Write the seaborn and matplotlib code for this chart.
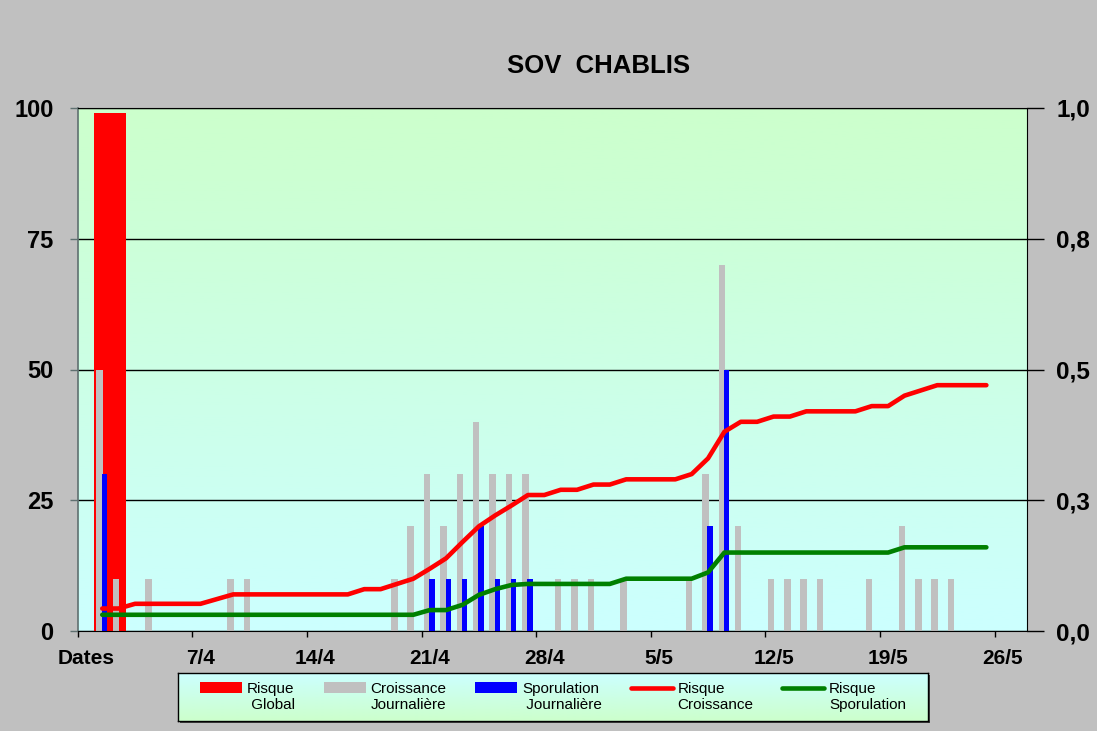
import numpy as np
import pandas as pd
import matplotlib
matplotlib.use("Agg")
import matplotlib.pyplot as plt
import seaborn as sns
from matplotlib.patches import Patch
from matplotlib.lines import Line2D
from matplotlib.colors import LinearSegmentedColormap
from matplotlib.legend_handler import HandlerPatch, HandlerLine2D

# ---------------- data ----------------
title = "SOV  CHABLIS"
n_days = 58  # 31/3 -> 27/5, one category per day
date_tick_days = [0, 7, 14, 21, 28, 35, 42, 49, 56]
date_tick_labels = ["Dates", "7/4", "14/4", "21/4", "28/4", "5/5", "12/5", "19/5", "26/5"]

risque_global = [0, 99] + [0] * 56

croissance_journaliere = [0, 50, 10, 0, 10, 0, 0, 0, 0, 10,
                          10, 0, 0, 0, 0, 0, 0, 0, 0, 10,
                          20, 30, 20, 30, 40, 30, 30, 30, 0, 10,
                          10, 10, 0, 10, 0, 0, 0, 10, 30, 70,
                          20, 0, 10, 10, 10, 10, 0, 0, 10, 0,
                          20, 10, 10, 10, 0, 0, 0, 0]

sporulation_journaliere = [0, 30, 0, 0, 0, 0, 0, 0, 0, 0,
                           0, 0, 0, 0, 0, 0, 0, 0, 0, 0,
                           0, 10, 10, 10, 20, 10, 10, 10, 0, 0,
                           0, 0, 0, 0, 0, 0, 0, 0, 20, 50,
                           0, 0, 0, 0, 0, 0, 0, 0, 0, 0,
                           0, 0, 0, 0, 0, 0, 0, 0]

line_days = list(range(1, 56))
risque_croissance = [0.043, 0.043, 0.052, 0.052, 0.052, 0.052, 0.052, 0.061, 0.070, 0.070,
                     0.070, 0.070, 0.070, 0.070, 0.070, 0.070, 0.080, 0.080, 0.090, 0.100,
                     0.119, 0.139, 0.170, 0.200, 0.221, 0.240, 0.260, 0.260, 0.270, 0.270,
                     0.280, 0.280, 0.290, 0.290, 0.290, 0.290, 0.300, 0.330, 0.381, 0.400,
                     0.400, 0.410, 0.410, 0.420, 0.420, 0.420, 0.420, 0.430, 0.430, 0.450,
                     0.460, 0.470, 0.470, 0.470, 0.470]
risque_sporulation = [0.031, 0.031, 0.031, 0.031, 0.031, 0.031, 0.031, 0.031, 0.031, 0.031,
                      0.031, 0.031, 0.031, 0.031, 0.031, 0.031, 0.031, 0.031, 0.031, 0.031,
                      0.040, 0.040, 0.050, 0.069, 0.080, 0.088, 0.090, 0.090, 0.090, 0.090,
                      0.090, 0.090, 0.100, 0.100, 0.100, 0.100, 0.100, 0.112, 0.150, 0.150,
                      0.150, 0.150, 0.150, 0.150, 0.150, 0.150, 0.150, 0.150, 0.150, 0.160,
                      0.160, 0.160, 0.160, 0.160, 0.160]

left_ticks = [0, 25, 50, 75, 100]
right_ticks = [0.0, 0.25, 0.5, 0.75, 1.0]
right_tick_labels = ["0,0", "0,3", "0,5", "0,8", "1,0"]
legend_labels = ["Risque\n Global", "Croissance\nJournalière", "Sporulation\n Journalière",
                 "Risque\nCroissance", "Risque\nSporulation"]

# ---------------- style ----------------
sns.set_style("white")
plt.rcParams["font.family"] = ["Liberation Sans", "DejaVu Sans"]
for key in ["text.color", "axes.labelcolor", "xtick.color", "ytick.color"]:
    plt.rcParams[key] = "black"

W, H = 1097, 731
fig = plt.figure(figsize=(W / 100, H / 100), dpi=100, facecolor="#C0C0C0")
ax = fig.add_axes([77.7 / W, 1 - 631 / H, (1027.3 - 77.7) / W, (631 - 108) / H])

# gradient background of plot area
bg = LinearSegmentedColormap.from_list("bg", ["#CCFFFF", "#CCFFCC"])
ax.imshow(np.linspace(0, 1, 256).reshape(-1, 1), cmap=bg, aspect="auto",
          extent=[0, 1, 0, 1], transform=ax.transAxes, origin="lower", zorder=0)

df = pd.DataFrame({"day": np.arange(n_days),
                   "glob": risque_global,
                   "crois": croissance_journaliere,
                   "spor": sporulation_journaliere})

sns.barplot(x=df["day"] + 0.96, y=df["glob"], native_scale=True, orient="x",
            width=1.93, color="#FF0000", saturation=1, linewidth=0, ax=ax)
sns.barplot(x=df["day"] + 0.34, y=df["crois"], native_scale=True, orient="x",
            width=0.40, color="#C0C0C0", saturation=1, linewidth=0, ax=ax)
sns.barplot(x=df["day"] + 0.63, y=df["spor"], native_scale=True, orient="x",
            width=0.33, color="#0000FF", saturation=1, linewidth=0, ax=ax)

ax.set_axisbelow(True)
ax.yaxis.grid(True, color="black", lw=1)
ax.xaxis.grid(False)
ax.set_ylim(0, 100)
ax.set_yticks(left_ticks)
ax.set_xlim(0, n_days)
ax.set_xticks(date_tick_days)
ax.set_xticklabels([])
ax.set_xticks(np.array(date_tick_days) + 0.5, minor=True)
ax.set_xticklabels(date_tick_labels, minor=True)
ax.set_xlabel("")
ax.set_ylabel("")
ax.tick_params(axis="y", direction="out", length=5.5, width=1, color="#5F7070",
               pad=12, labelsize=17, left=True, labelcolor="black")
ax.tick_params(axis="x", which="major", direction="out", length=4.3, width=1,
               color="black", bottom=True)
ax.tick_params(axis="x", which="minor", length=0, pad=13, labelsize=15, bottom=True,
               labelcolor="black")
for lab in ax.get_yticklabels() + ax.get_xticklabels(minor=True):
    lab.set_fontweight("bold")
ax.spines["left"].set_color("#5F7070")
ax.spines["left"].set_linewidth(1.2)
ax.spines["bottom"].set_color("black")
ax.spines["top"].set_visible(True)
ax.spines["top"].set_color("black")
ax.spines["right"].set_visible(False)

# secondary axis with the risk lines
ax2 = ax.twinx()
sns.lineplot(x=np.array(line_days) + 0.5, y=risque_croissance, ax=ax2,
             color="#FF0000", lw=3.3, solid_capstyle="round")
sns.lineplot(x=np.array(line_days) + 0.5, y=risque_sporulation, ax=ax2,
             color="#008000", lw=3.3, solid_capstyle="round")
ax2.set_ylim(0, 1)
ax2.set_xlim(0, n_days)
ax2.set_yticks(right_ticks)
ax2.set_yticklabels(right_tick_labels)
ax2.set_ylabel("")
ax2.tick_params(axis="y", direction="out", length=12, width=1, color="black",
                pad=9, labelsize=17.5, right=True, labelcolor="black")
for lab in ax2.get_yticklabels():
    lab.set_fontweight("bold")
for s in ["left", "top", "bottom"]:
    ax2.spines[s].set_visible(False)
ax2.spines["right"].set_visible(True)
ax2.spines["right"].set_color("black")
ax2.grid(False)

# title
fig.text(599 / W, 1 - 66 / H, title, ha="center", va="center",
         fontsize=18.5, fontweight="bold", color="black")

# legend box with gradient
lx0, ly0, lx1, ly1 = 178, 673, 928, 721
shadow = fig.add_axes([(lx0 + 2) / W, 1 - (ly1 + 2) / H, (lx1 - lx0) / W, (ly1 - ly0) / H])
shadow.set_facecolor("#404040")
shadow.set_xticks([]); shadow.set_yticks([])
for s in shadow.spines.values():
    s.set_visible(False)
lax = fig.add_axes([lx0 / W, 1 - ly1 / H, (lx1 - lx0) / W, (ly1 - ly0) / H])
lbg = LinearSegmentedColormap.from_list("lbg", ["#CCFFCC", "#CCFFFF"])
lax.imshow(np.linspace(0, 1, 64).reshape(-1, 1), cmap=lbg, aspect="auto",
           extent=[0, 1, 0, 1], origin="lower")
lax.set_xticks([]); lax.set_yticks([])
for s in lax.spines.values():
    s.set_color("black"); s.set_linewidth(1)

LEG_FS = 11
LIFT = 0.62 * LEG_FS  # raise handles to the first text line


class LiftedPatch(HandlerPatch):
    def create_artists(self, legend, orig_handle, xdescent, ydescent, width, height,
                       fontsize, trans):
        arts = super().create_artists(legend, orig_handle, xdescent, ydescent, width,
                                      height, fontsize, trans)
        for a in arts:
            a.set_y(a.get_y() + LIFT)
        return arts


class LiftedLine(HandlerLine2D):
    def create_artists(self, legend, orig_handle, xdescent, ydescent, width, height,
                       fontsize, trans):
        arts = super().create_artists(legend, orig_handle, xdescent, ydescent, width,
                                      height, fontsize, trans)
        for a in arts:
            a.set_ydata(np.asarray(a.get_ydata()) + LIFT)
        return arts


handles = [Patch(facecolor="#FF0000", edgecolor="none"),
           Patch(facecolor="#C0C0C0", edgecolor="none"),
           Patch(facecolor="#0000FF", edgecolor="none"),
           Line2D([], [], color="#FF0000", lw=3.3, solid_capstyle="round"),
           Line2D([], [], color="#008000", lw=3.3, solid_capstyle="round")]
leg = lax.legend(handles, legend_labels, ncol=5, loc="center", frameon=False,
                 fontsize=LEG_FS, handlelength=2.75, handleheight=0.7, handletextpad=0.3,
                 columnspacing=1.9, borderpad=0.2,
                 handler_map={Patch: LiftedPatch(), Line2D: LiftedLine()})
for t in leg.get_texts():
    t.set_linespacing(1.12)
    t.set_color("black")

fig.savefig("out.png", dpi=100, facecolor=fig.get_facecolor())
